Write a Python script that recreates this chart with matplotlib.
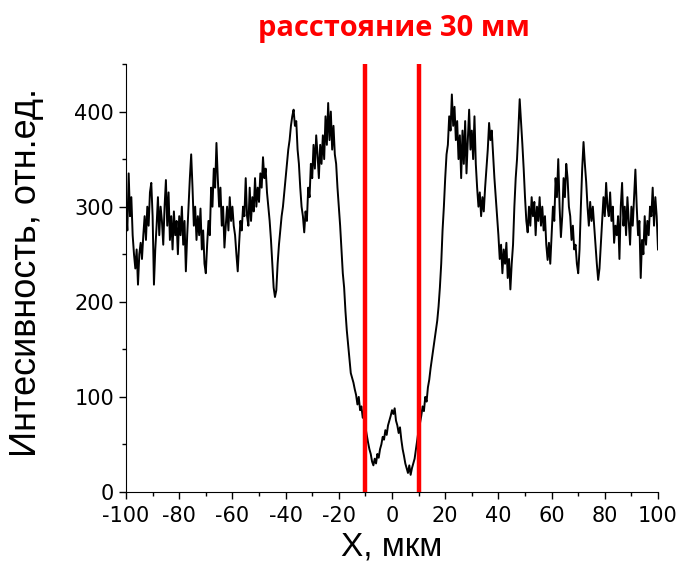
import numpy as np
import matplotlib
matplotlib.use('Agg')
import matplotlib.pyplot as plt
from matplotlib.ticker import MultipleLocator

plt.rcParams['axes.unicode_minus'] = False

# profile values, 0.5 um step from -100 to 100
x_start, x_step = -100, 0.5
intensity = [
    # -100 .. -90.5
    300, 275, 335, 290, 310, 270, 250, 235, 255, 218, 250, 262, 245, 270, 290, 265, 300, 280, 315, 325,
    # -90 .. -80.5
    290, 218, 255, 280, 310, 270, 300, 285, 260, 300, 328, 280, 315, 265, 290, 255, 295, 270, 285, 250,
    # -80 .. -70.5
    290, 270, 300, 260, 285, 232, 270, 300, 330, 355, 320, 280, 300, 265, 290, 270, 298, 255, 275, 240,
    # -70 .. -60.5
    230, 260, 285, 270, 320, 300, 340, 320, 367, 330, 300, 320, 280, 300, 257, 280, 300, 275, 310, 285,
    # -60 .. -50.5
    300, 280, 270, 250, 232, 260, 285, 275, 300, 290, 330, 290, 280, 320, 285, 310, 295, 330, 300, 320,
    # -50 .. -40.5
    305, 335, 320, 352, 330, 340, 315, 300, 285, 265, 240, 215, 205, 212, 240, 260, 275, 290, 300, 315,
    # -40 .. -30.5
    330, 345, 360, 370, 385, 395, 402, 385, 390, 360, 345, 320, 300, 290, 273, 295, 285, 320, 310, 345,
    # -30 .. -20.5
    330, 365, 340, 375, 355, 330, 365, 345, 375, 350, 395, 365, 409, 370, 400, 360, 385, 355, 345, 320,
    # -20 .. -10.5
    300, 280, 255, 230, 215, 190, 170, 155, 140, 125, 120, 115, 108, 102, 92, 100, 86, 90, 78, 80,
    # -10 .. -0.5
    68, 60, 52, 45, 40, 32, 28, 35, 30, 40, 36, 45, 50, 58, 55, 65, 60, 70, 75, 80,
    # 0 .. 9.5
    86, 82, 88, 75, 70, 62, 68, 55, 45, 38, 30, 25, 20, 28, 18, 25, 30, 35, 45, 55,
    # 10 .. 19.5
    65, 72, 80, 90, 85, 100, 95, 110, 118, 130, 140, 150, 160, 170, 180, 195, 215, 240, 275, 300,
    # 20 .. 29.5
    330, 355, 365, 395, 380, 418, 385, 405, 370, 390, 350, 375, 330, 380, 345, 390, 335, 370, 402, 360,
    # 30 .. 39.5
    380, 350, 395, 345, 320, 300, 315, 290, 310, 295, 320, 340, 360, 388, 370, 380, 355, 330, 310, 290,
    # 40 .. 49.5
    270, 245, 260, 230, 255, 240, 262, 225, 245, 213, 240, 260, 300, 330, 350, 380, 413, 390, 366, 340,
    # 50 .. 59.5
    310, 285, 273, 300, 280, 310, 290, 305, 270, 300, 285, 310, 280, 300, 275, 290, 260, 244, 262, 240,
    # 60 .. 69.5
    270, 300, 285, 330, 310, 350, 300, 268, 290, 330, 310, 345, 330, 300, 290, 265, 280, 255, 260, 240,
    # 70 .. 79.5
    230, 255, 300, 340, 368, 345, 326, 300, 280, 305, 285, 300, 280, 260, 240, 223, 235, 260, 285, 310,
    # 80 .. 89.5
    290, 325, 300, 290, 315, 285, 300, 262, 280, 270, 290, 245, 300, 325, 280, 300, 270, 310, 285, 260,
    # 90 .. 100
    300, 280, 310, 339, 300, 270, 285, 225, 265, 250, 290, 260, 285, 270, 300, 290, 320, 280, 310, 290, 255,
]
x = x_start + x_step * np.arange(len(intensity))

# slit edges (red markers)
edges = [-10, 10]

fig = plt.figure(figsize=(6.83, 5.64), dpi=100)
ax = fig.add_axes([0.1845, 0.1277, 0.7789, 0.7588])

ax.plot(x, intensity, color='black', lw=1.4)
for e in edges:
    ax.axvline(e, color='#ff0000', lw=3.2, zorder=3)

ax.set_xlim(-100, 100)
ax.set_ylim(0, 450)
ax.xaxis.set_major_locator(MultipleLocator(20))
ax.xaxis.set_minor_locator(MultipleLocator(10))
ax.yaxis.set_major_locator(MultipleLocator(100))
ax.yaxis.set_minor_locator(MultipleLocator(50))
ax.spines['top'].set_visible(False)
ax.spines['right'].set_visible(False)
ax.tick_params(which='major', direction='out', length=5, width=1, labelsize=15)
ax.tick_params(axis='x', which='major', pad=5)
ax.tick_params(which='minor', direction='out', length=3, width=1)
for lab in ax.get_xticklabels() + ax.get_yticklabels():
    lab.set_family('DejaVu Sans')

ax.set_xlabel('X, мкм', fontsize=24, family='Liberation Sans')
ax.set_ylabel('Интесивность, отн.ед.', fontsize=26, family='Liberation Sans')
ax.xaxis.set_label_coords(0.5, -0.093)
ax.yaxis.set_label_coords(-0.155, 0.514)

fig.text(0.577, 0.949, 'расстояние 30 мм', color='#ff0000', fontsize=21,
         fontweight='bold', family='Open Sans', ha='center', va='center')

fig.savefig('out.png', dpi=100)
